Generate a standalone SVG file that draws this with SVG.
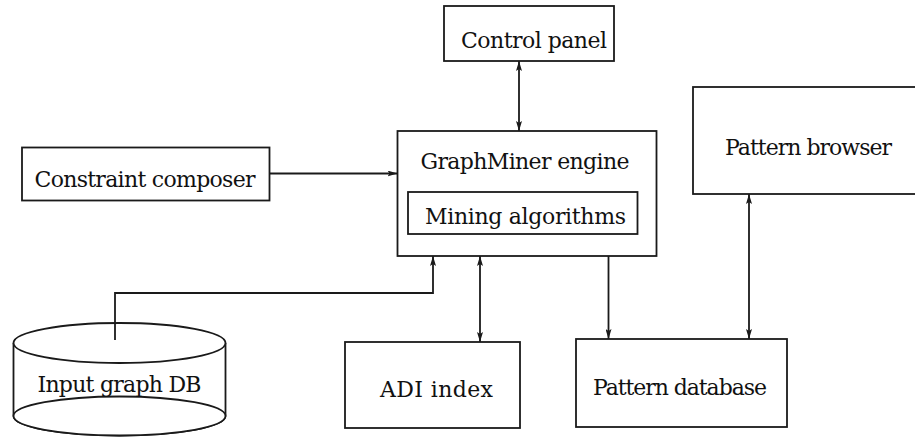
<svg xmlns="http://www.w3.org/2000/svg" width="915" height="438" viewBox="0 0 915 438">
  <style>
    .box { fill: #ffffff; stroke: #1a1a1a; stroke-width: 1.8; }
    .lbl { font-family: "DejaVu Serif", "Liberation Serif", serif; font-size: 22px; fill: #111111; }
    .wire { fill: none; stroke: #1a1a1a; stroke-width: 1.8; }
  </style>
  <defs>
    <marker id="head" viewBox="0 0 10 6" refX="10" refY="3" markerWidth="10" markerHeight="6" markerUnits="userSpaceOnUse" orient="auto-start-reverse">
      <path d="M0,0 L10,3 L0,6 L2,3 z" fill="#1a1a1a"/>
    </marker>
  </defs>
  <rect width="915" height="438" fill="#ffffff"/>

  <!-- connectors -->
  <g id="connectors">
    <line class="wire" x1="519" y1="61" x2="519" y2="131" marker-start="url(#head)" marker-end="url(#head)"/>
    <line class="wire" x1="269.5" y1="173.5" x2="397.5" y2="173.5" marker-end="url(#head)"/>
    <polyline class="wire" points="115,340 115,293 433,293 433,256" marker-end="url(#head)"/>
    <line class="wire" x1="480" y1="256" x2="480" y2="342" marker-start="url(#head)" marker-end="url(#head)"/>
    <line class="wire" x1="608.5" y1="256" x2="608.5" y2="339" marker-end="url(#head)"/>
    <line class="wire" x1="749" y1="194" x2="749" y2="339" marker-start="url(#head)" marker-end="url(#head)"/>
  </g>

  <g id="control-panel">
    <rect class="box" x="444" y="6" width="170" height="55"/>
    <text class="lbl" x="461" y="48" textLength="146">Control panel</text>
  </g>

  <g id="graphminer-engine">
    <rect class="box" x="397.5" y="131" width="259" height="125"/>
    <text class="lbl" x="420.5" y="169" textLength="209">GraphMiner engine</text>
    <g id="mining-algorithms">
      <rect class="box" x="408" y="192" width="229.5" height="42"/>
      <text class="lbl" x="425" y="224" textLength="201">Mining algorithms</text>
    </g>
  </g>

  <g id="constraint-composer">
    <rect class="box" x="22" y="147.5" width="247.5" height="53"/>
    <text class="lbl" x="34.5" y="187" textLength="221">Constraint composer</text>
  </g>

  <g id="pattern-browser">
    <rect class="box" x="693" y="87" width="230" height="107"/>
    <text class="lbl" x="725" y="154.5" textLength="167">Pattern browser</text>
  </g>

  <g id="input-graph-db">
    <path class="box" d="M13.5,343 L13.5,416 A106,19.5 0 0 0 225.5,416 L225.5,343"/>
    <ellipse class="box" cx="119.5" cy="416" rx="106" ry="19.5"/>
    <ellipse class="box" cx="119.5" cy="343" rx="106" ry="20"/>
    <line class="wire" x1="115" y1="323" x2="115" y2="340"/>
    <text class="lbl" x="37.5" y="392" textLength="164">Input graph DB</text>
  </g>

  <g id="adi-index">
    <rect class="box" x="345" y="342" width="175" height="86"/>
    <text class="lbl" x="380" y="397" textLength="113">ADI index</text>
  </g>

  <g id="pattern-database">
    <rect class="box" x="576" y="339" width="211" height="88"/>
    <text class="lbl" x="593" y="395" textLength="174">Pattern database</text>
  </g>
</svg>
